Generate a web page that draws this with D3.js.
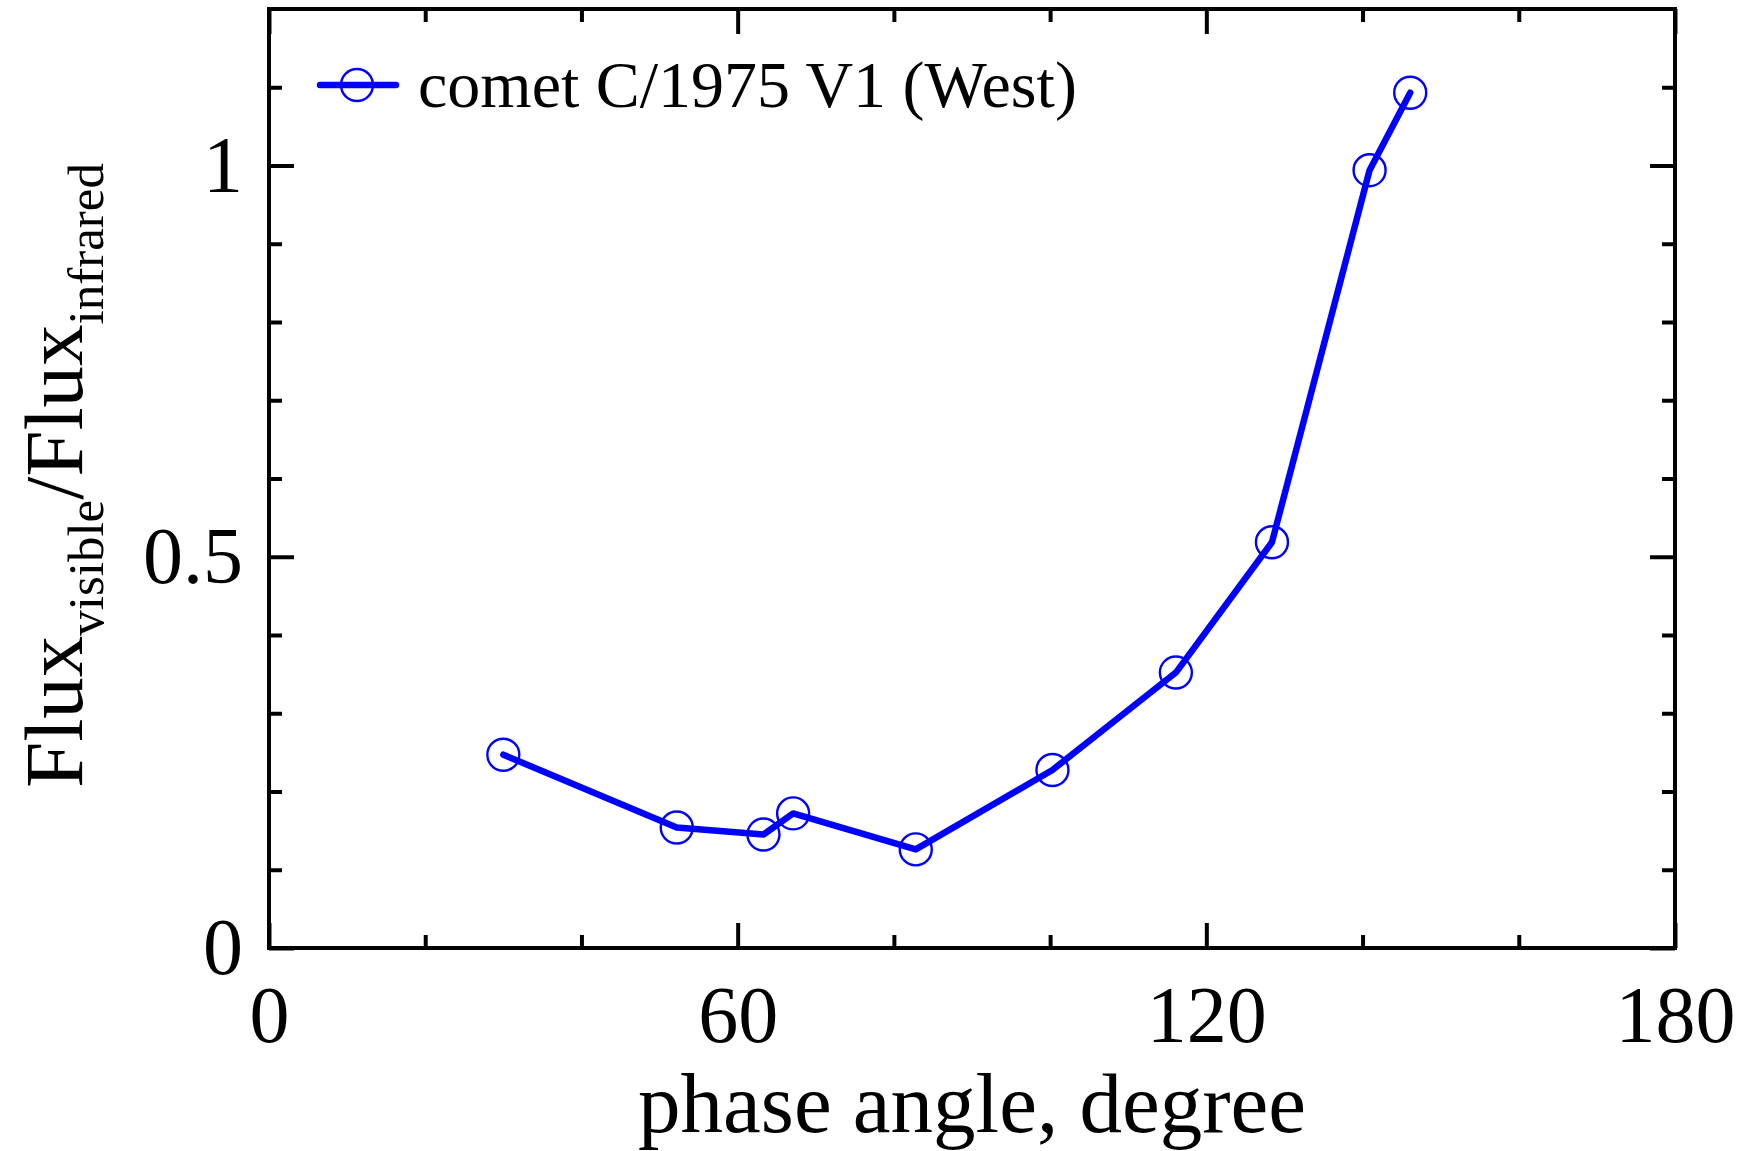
<!DOCTYPE html>
<html>
<head>
<meta charset="utf-8">
<script src="https://cdn.jsdelivr.net/npm/d3@7/dist/d3.min.js"></script>
<style>
  html, body { margin: 0; padding: 0; background: #fff; }
  svg { display: block; }
  text { font-family: "Liberation Serif", "Times New Roman", serif; fill: #000; }
</style>
</head>
<body>
<svg id="chart" width="1747" height="1151"></svg>
<script>
// Phase angle (degrees) and visible/infrared flux ratio for comet West
const phaseAngle = [30.0, 52.2, 63.3, 67.1, 82.8, 100.3, 116.1, 128.4, 140.9, 146.1];
const fluxRatio  = [0.247, 0.154, 0.145, 0.172, 0.126, 0.2275, 0.352, 0.5185, 0.994, 1.093];

const seriesName = "comet C/1975 V1 (West)";

const xMajorTicks = [0, 60, 120, 180];
const xMinorTicks = [20, 40, 80, 100, 140, 160];
const yMajorTicks = [0, 0.5, 1];
const yMinorTicks = [0.1, 0.2, 0.3, 0.4, 0.6, 0.7, 0.8, 0.9, 1.1];

const margin = { left: 269, right: 72, top: 9, bottom: 203 };
const W = 1747, H = 1151;
const plotW = W - margin.left - margin.right;
const plotH = H - margin.top - margin.bottom;

const svg = d3.select("#chart");
const g = svg.append("g").attr("transform", `translate(${margin.left},${margin.top})`);

const x = d3.scaleLinear().domain([0, 180]).range([0, plotW]);
const y = d3.scaleLinear().domain([0, 1.2]).range([plotH, 0]);

const majorLen = 25, minorLen = 13, tickFont = 80;
const fmt = d => d3.format("~g")(d);

function styleAxis(sel) {
  sel.select(".domain").remove();
  sel.selectAll(".tick line").attr("stroke", "#000").attr("stroke-width", 4);
  sel.selectAll(".tick text").style("font-size", tickFont + "px").attr("fill", "#000");
}

// bottom axis: labelled major ticks + minor ticks, all pointing inward
g.append("g").attr("transform", `translate(0,${plotH})`)
  .call(d3.axisBottom(x).tickValues(xMajorTicks).tickSize(-majorLen).tickPadding(37).tickFormat(fmt))
  .call(styleAxis);
g.append("g").attr("transform", `translate(0,${plotH})`)
  .call(d3.axisBottom(x).tickValues(xMinorTicks).tickSize(-minorLen).tickFormat(""))
  .call(styleAxis);
// top axis
g.append("g")
  .call(d3.axisTop(x).tickValues(xMajorTicks).tickSize(-majorLen).tickFormat(""))
  .call(styleAxis);
g.append("g")
  .call(d3.axisTop(x).tickValues(xMinorTicks).tickSize(-minorLen).tickFormat(""))
  .call(styleAxis);
// left axis
g.append("g")
  .call(d3.axisLeft(y).tickValues(yMajorTicks).tickSize(-majorLen).tickPadding(26).tickFormat(fmt))
  .call(styleAxis);
g.append("g")
  .call(d3.axisLeft(y).tickValues(yMinorTicks).tickSize(-minorLen).tickFormat(""))
  .call(styleAxis);
// right axis
g.append("g").attr("transform", `translate(${plotW},0)`)
  .call(d3.axisRight(y).tickValues(yMajorTicks).tickSize(-majorLen).tickFormat(""))
  .call(styleAxis);
g.append("g").attr("transform", `translate(${plotW},0)`)
  .call(d3.axisRight(y).tickValues(yMinorTicks).tickSize(-minorLen).tickFormat(""))
  .call(styleAxis);

// frame
g.append("rect")
  .attr("x", 0).attr("y", 0).attr("width", plotW).attr("height", plotH)
  .attr("fill", "none").attr("stroke", "#000").attr("stroke-width", 4);

// data line and open circle markers
const pts = phaseAngle.map((a, i) => [a, fluxRatio[i]]);
const blue = "#0000ff";
g.append("path")
  .datum(pts)
  .attr("fill", "none").attr("stroke", blue).attr("stroke-width", 6.5)
  .attr("stroke-linejoin", "round").attr("stroke-linecap", "round")
  .attr("d", d3.line().x(d => x(d[0])).y(d => y(d[1])));
g.selectAll("circle.pt").data(pts).join("circle")
  .attr("class", "pt")
  .attr("cx", d => x(d[0])).attr("cy", d => y(d[1])).attr("r", 16)
  .attr("fill", "none").attr("stroke", blue).attr("stroke-width", 2.4);

// legend
const leg = svg.append("g");
leg.append("line").attr("x1", 320).attr("x2", 396).attr("y1", 85).attr("y2", 85)
  .attr("stroke", blue).attr("stroke-width", 6.5).attr("stroke-linecap", "round");
leg.append("circle").attr("cx", 357).attr("cy", 85).attr("r", 16)
  .attr("fill", "none").attr("stroke", blue).attr("stroke-width", 2.4);
leg.append("text").attr("x", 418).attr("y", 107)
  .style("font-size", "66px").text(seriesName);

// axis titles
svg.append("text")
  .attr("x", margin.left + plotW / 2).attr("y", 1132)
  .attr("text-anchor", "middle").style("font-size", "85px")
  .text("phase angle, degree");

const yt = svg.append("text")
  .attr("transform", "translate(82,788) rotate(-90)")
  .style("font-size", "83px");
yt.append("tspan").text("Flux");
yt.append("tspan").attr("dy", 21).style("font-size", "51px").text("visible");
yt.append("tspan").attr("dy", -21).text("/Flux");
yt.append("tspan").attr("dy", 21).style("font-size", "51px").text("infrared");
</script>
</body>
</html>
